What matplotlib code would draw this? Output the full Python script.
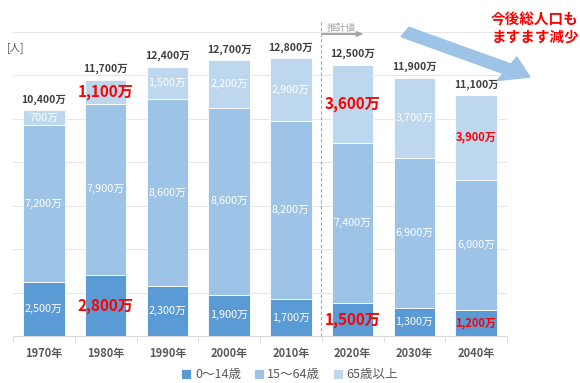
import numpy as np
import matplotlib.pyplot as plt
from matplotlib.patches import FancyArrow

plt.rcParams['font.family'] = ['Noto Sans CJK JP', 'DejaVu Sans']

years = ["1970年", "1980年", "1990年", "2000年", "2010年", "2020年", "2030年", "2040年"]
young = [2500, 2800, 2300, 1900, 1700, 1500, 1300, 1200]      # 0~14歳
working = [7200, 7900, 8600, 8600, 8200, 7400, 6900, 6000]    # 15~64歳
elderly = [700, 1100, 1500, 2200, 2900, 3600, 3700, 3900]     # 65歳以上
totals = [10400, 11700, 12400, 12700, 12800, 12500, 11900, 11100]

# labels drawn red: (series index, bar index) -> size
big_red = {(0, 1): 11, (2, 1): 11, (0, 5): 11, (2, 5): 11}
small_red = {(0, 7): 8, (2, 7): 8}

c_young, c_work, c_old = "#5B9BD5", "#9DC3E6", "#BDD7EE"

fig = plt.figure(figsize=(5.8, 3.83), dpi=100)
ax = fig.add_axes([13/580, 1-336/383, 494/580, 304/383])

x = np.arange(len(years))
w = 0.67
series = [young, working, elderly]
colors = [c_young, c_work, c_old]
names = ["0～14歳", "15～64歳", "65歳以上"]
bottom = np.zeros(len(years))
for si, (vals, col, nm) in enumerate(zip(series, colors, names)):
    vals = np.array(vals, dtype=float)
    ax.bar(x, vals, w, bottom=bottom, color=col, label=nm, zorder=2,
           edgecolor="white", linewidth=0.6)
    for i, v in enumerate(vals):
        yc = bottom[i] + v / 2
        txt = f"{int(v):,}万"
        if (si, i) in big_red:
            ax.text(x[i], yc, txt, ha="center", va="center", color="#FF0000",
                    fontsize=big_red[(si, i)], fontweight="bold", zorder=4)
        elif (si, i) in small_red:
            ax.text(x[i], yc, txt, ha="center", va="center", color="#FF0000",
                    fontsize=small_red[(si, i)], fontweight="bold", zorder=4)
        else:
            ax.text(x[i], yc, txt, ha="center", va="center", color="white",
                    fontsize=7.8, zorder=4)
    bottom += vals

for i, t in enumerate(totals):
    ax.text(x[i], max(t, bottom[i]) + 250, f"{t:,}万", ha="center", va="bottom",
            color="#404040", fontsize=7.5, fontweight="bold")

ax.set_xlim(-0.5, len(years) - 0.5)
ax.set_ylim(0, 14000)
ax.set_yticks(np.arange(2000, 14001, 2000))
ax.yaxis.grid(True, color="#E6E6E6", lw=0.8, zorder=0)
ax.tick_params(axis="y", left=False, labelleft=False)
ax.set_xticks(x)
ax.set_xticklabels(years, fontsize=8, color="#595959", fontweight="bold")
ax.set_xticks(np.arange(-0.5, len(years)), minor=True)
ax.tick_params(axis="x", which="major", length=0, pad=8)
ax.tick_params(axis="x", which="minor", length=4, color="#D9D9D9")
for s in ["top", "right", "left"]:
    ax.spines[s].set_visible(False)
ax.spines["bottom"].set_color("#D9D9D9")

ax.legend(loc="center", bbox_to_anchor=(0.56, -0.128), ncol=3, frameon=False,
          fontsize=9, handlelength=0.8, handleheight=0.8, handletextpad=0.3,
          columnspacing=1.0, labelcolor="#595959", borderpad=0)

# unit label
fig.text(7/580, 1-48/383, "[人]", fontsize=7.5, color="#595959", va="center")

# 推計値 marker
fig.add_artist(plt.Line2D([321/580, 321/580], [1-22/383, 1-336/383], color="#A6A6A6",
                          lw=0.8, ls=(0, (3, 2))))
fig.add_artist(FancyArrow(322/580, 1-34/383, 40/580, 0, width=0.001, head_width=0.012,
                          head_length=0.01, color="#A6A6A6", length_includes_head=True,
                          transform=fig.transFigure))
fig.text(341/580, 1-28/383, "推計値", fontsize=7, color="#A6A6A6", ha="center", va="center")

# big arrow
fig.add_artist(FancyArrow(405/580, 1-32/383, 125/580, -45/383, width=0.028, head_width=0.07,
                          head_length=0.045, color="#9DC3E6", length_includes_head=True,
                          transform=fig.transFigure))
fig.text(535/580, 1-28/383, "今後総人口も\nますます減少", fontsize=10.5, color="#FF0000",
         fontweight="bold", ha="center", va="center", linespacing=1.1)

fig.savefig("out.png", dpi=100)
